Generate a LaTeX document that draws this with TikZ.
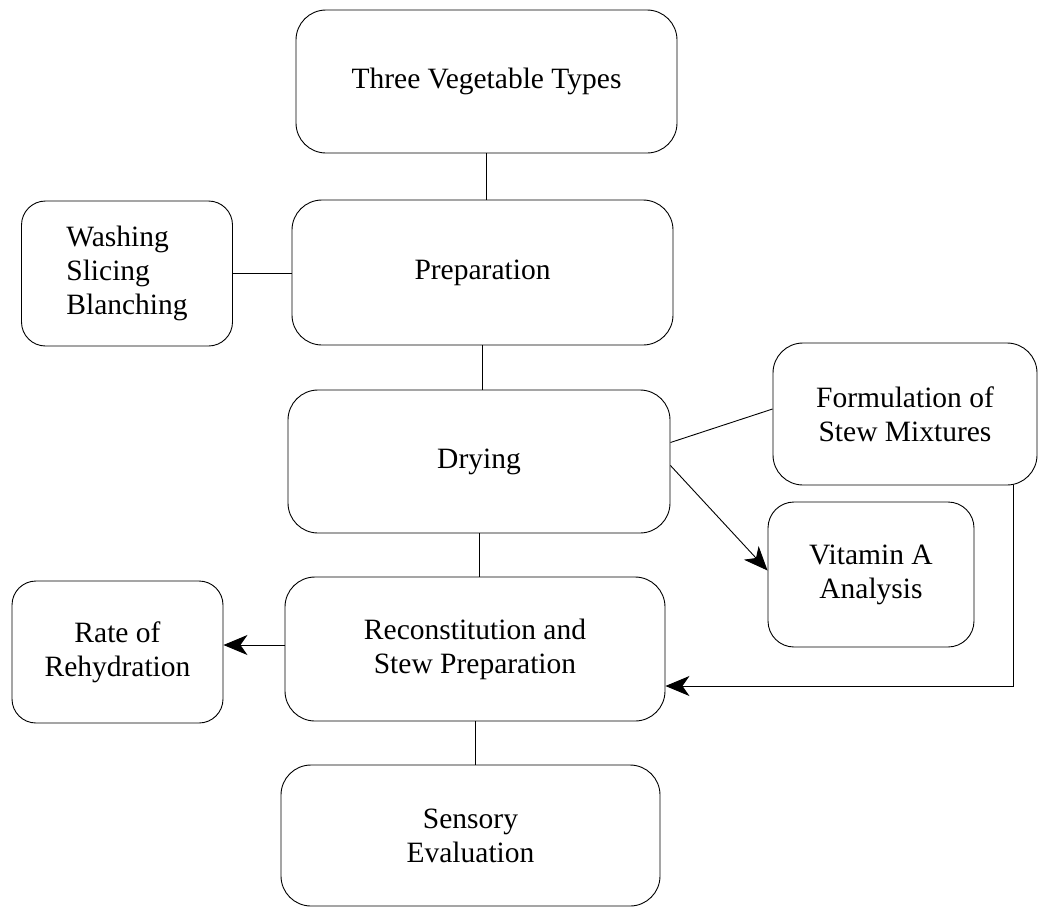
\documentclass[tikz,border=0pt]{standalone}
\usepackage{fontspec}
\setmainfont{Liberation Serif}
\newfontfamily\tnr{Liberation Serif}
\usetikzlibrary{arrows.meta}
\begin{document}
\begin{tikzpicture}[x=1pt,y=-1pt,
  box/.style={draw, line width=0.9pt, rounded corners=30pt, align=center,
    inner sep=0pt, font=\tnr\fontsize{29.5}{34}\selectfont},
  conn/.style={line width=0.9pt},
  arr/.style={line width=0.9pt, -{Stealth[length=24pt,width=20pt,inset=7pt]}}]
\useasboundingbox (0,0) rectangle (1040,908);
\node[box, minimum width=381pt, minimum height=143pt] (three) at (486.5,81.5) {Three Vegetable Types};
\node[box, minimum width=381pt, minimum height=145pt] (prep) at (482.5,272.5) {Preparation};
\node[box, minimum width=211pt, minimum height=145pt, align=left, rounded corners=24pt] (wash) at (127,273.5) {Washing\\Slicing\\Blanching};
\node[box, minimum width=382pt, minimum height=143pt] (dry) at (479,461.5) {Drying};
\node[box, minimum width=264pt, minimum height=142pt] (form) at (905,414) {Formulation of\\Stew Mixtures};
\node[box, minimum width=206pt, minimum height=145pt, rounded corners=26pt] (vit) at (871,574.5) {Vitamin A\\Analysis};
\node[box, minimum width=380pt, minimum height=144pt] (recon) at (475,649) {Reconstitution and\\Stew Preparation};
\node[box, minimum width=211pt, minimum height=142pt, rounded corners=24pt] (rate) at (117.5,652) {Rate of\\Rehydration};
\node[box, minimum width=379pt, minimum height=141pt] (sens) at (470.5,835.5) {Sensory\\Evaluation};
\draw[conn] (three.south) -- (three.south |- prep.north);
\draw[conn] (wash.east) -- (wash.east -| prep.west);
\draw[conn] (prep.south) -- (prep.south |- dry.north);
\draw[conn] ([yshift=19pt]dry.east) -- ([yshift=5pt]form.west);
\draw[arr] ([yshift=-4pt]dry.east) -- ([yshift=4pt]vit.west);
\draw[conn] (dry.south) -- (dry.south |- recon.north);
\coordinate (rl) at ([yshift=4pt]recon.west);
\draw[arr] (rl) -- (rl -| rate.east);
\coordinate (fb) at ([xshift=108pt]form.south);
\coordinate (re) at ([yshift=-37pt]recon.east);
\draw[arr] (fb) |- (re);
\draw[conn] (recon.south) -- (recon.south |- sens.north);
\end{tikzpicture}
\end{document}
